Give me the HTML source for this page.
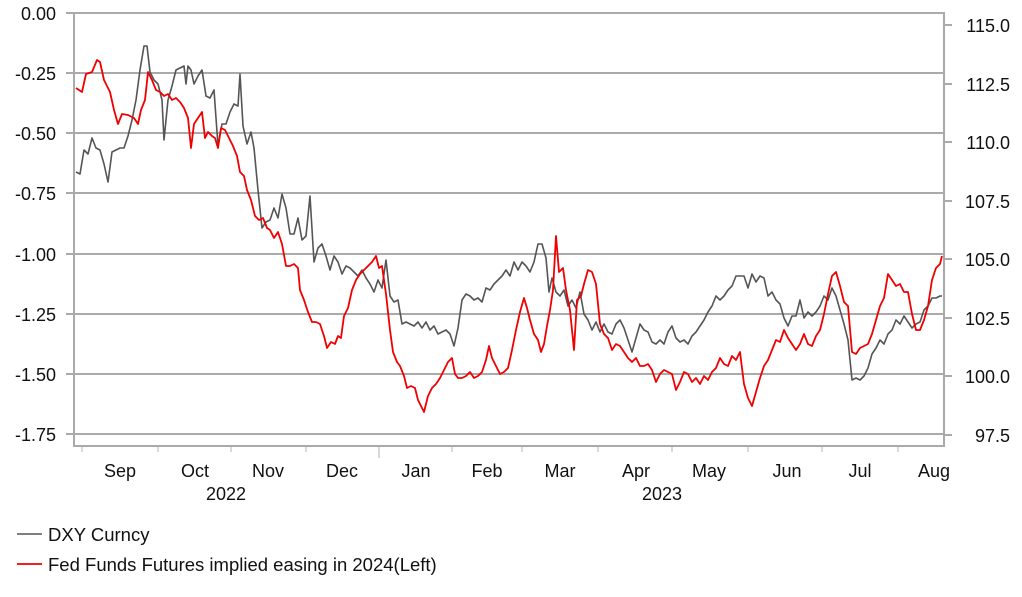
<!DOCTYPE html><html><head><meta charset="utf-8"><style>body{margin:0;background:#fff}svg{display:block;font-family:"Liberation Sans",sans-serif}</style></head><body>
<svg width="1022" height="597" viewBox="0 0 1022 597">
<rect x="0" y="0" width="1022" height="597" fill="#fff"/>
<g stroke="#aaa" stroke-width="2">
<line x1="74" y1="73" x2="944" y2="73"/><line x1="74" y1="133" x2="944" y2="133"/><line x1="74" y1="193" x2="944" y2="193"/><line x1="74" y1="254" x2="944" y2="254"/><line x1="74" y1="314" x2="944" y2="314"/><line x1="74" y1="374" x2="944" y2="374"/><line x1="74" y1="434" x2="944" y2="434"/>
<rect x="74" y="13" width="870" height="433" fill="none"/>
<line x1="66" y1="13" x2="74" y2="13"/><line x1="66" y1="73" x2="74" y2="73"/><line x1="66" y1="133" x2="74" y2="133"/><line x1="66" y1="193" x2="74" y2="193"/><line x1="66" y1="254" x2="74" y2="254"/><line x1="66" y1="314" x2="74" y2="314"/><line x1="66" y1="374" x2="74" y2="374"/><line x1="66" y1="434" x2="74" y2="434"/>
<line x1="944" y1="25" x2="952" y2="25"/><line x1="944" y1="84" x2="952" y2="84"/><line x1="944" y1="142" x2="952" y2="142"/><line x1="944" y1="201" x2="952" y2="201"/><line x1="944" y1="259" x2="952" y2="259"/><line x1="944" y1="318" x2="952" y2="318"/><line x1="944" y1="376" x2="952" y2="376"/><line x1="944" y1="435" x2="952" y2="435"/>
</g>
<g stroke="#ccc" stroke-width="1.5">
<line x1="82" y1="447" x2="82" y2="452"/><line x1="158" y1="447" x2="158" y2="452"/><line x1="231" y1="447" x2="231" y2="452"/><line x1="306" y1="447" x2="306" y2="452"/><line x1="379" y1="447" x2="379" y2="458"/><line x1="452" y1="447" x2="452" y2="452"/><line x1="522" y1="447" x2="522" y2="452"/><line x1="598" y1="447" x2="598" y2="452"/><line x1="672" y1="447" x2="672" y2="452"/><line x1="748" y1="447" x2="748" y2="452"/><line x1="822" y1="447" x2="822" y2="452"/><line x1="898" y1="447" x2="898" y2="452"/>
</g>
<g font-size="18" fill="#111" text-anchor="end">
<text x="56" y="20">0.00</text><text x="56" y="80">-0.25</text><text x="56" y="140">-0.50</text><text x="56" y="200">-0.75</text><text x="56" y="261">-1.00</text><text x="56" y="321">-1.25</text><text x="56" y="381">-1.50</text><text x="56" y="441">-1.75</text>
<text x="1010" y="32">115.0</text><text x="1010" y="91">112.5</text><text x="1010" y="149">110.0</text><text x="1010" y="208">107.5</text><text x="1010" y="266">105.0</text><text x="1010" y="325">102.5</text><text x="1010" y="383">100.0</text><text x="1010" y="442">97.5</text>
</g>
<g font-size="18" fill="#111" text-anchor="middle">
<text x="120" y="477">Sep</text><text x="195" y="477">Oct</text><text x="268" y="477">Nov</text><text x="342" y="477">Dec</text><text x="416" y="477">Jan</text><text x="487" y="477">Feb</text><text x="560" y="477">Mar</text><text x="636" y="477">Apr</text><text x="709" y="477">May</text><text x="787" y="477">Jun</text><text x="860" y="477">Jul</text><text x="934" y="477">Aug</text>
<text x="226" y="500">2022</text><text x="662" y="500">2023</text>
</g>
<polyline fill="none" stroke="#555" stroke-width="1.6" stroke-linejoin="round" points="76,172 80,174 84,150 88,154 92,138 96,148 100,150 104,164 108,182 112,152 116,150 120,148 124,148 128,136 132,120 136,100 140,70 144,46 147,46 150,72 154,80 158,84 162,100 164,140 168,100 172,86 176,70 180,68 184,66 186,84 188,66 191,70 194,84 198,76 202,70 206,96 210,98 214,90 218,146 222,124 226,124 230,112 234,104 238,106 240,74 243,126 247,144 251,132 254,148 258,190 262,228 266,222 270,220 274,208 278,218 282,194 286,208 290,234 294,234 298,218 302,240 306,236 310,196 314,262 318,248 322,244 326,256 330,270 334,256 338,262 342,274 346,266 350,268 354,272 358,276 362,270 366,278 370,284 374,292 378,280 382,288 386,260 390,296 394,302 398,300 402,324 406,322 410,324 414,326 418,322 422,328 426,322 430,330 434,326 438,334 442,332 446,330 450,334 454,346 458,328 462,300 466,294 470,296 474,300 478,298 482,302 486,288 490,290 494,284 498,280 502,276 506,270 510,276 514,262 518,270 522,262 526,266 530,272 534,262 538,244 542,244 546,258 549,292 552,278 556,292 560,296 564,290 568,306 572,300 576,308 580,292 584,314 588,320 592,330 596,322 600,332 604,324 608,332 612,334 616,324 620,320 624,328 628,340 632,352 636,338 640,324 644,330 648,332 652,342 656,344 660,340 664,344 668,332 672,326 676,338 680,342 684,340 688,344 692,336 696,332 700,326 704,320 708,312 712,306 716,296 720,300 724,296 728,290 732,286 736,276 740,276 744,276 748,288 752,274 756,282 760,276 764,278 768,296 772,292 776,300 780,304 784,318 788,326 792,316 796,316 800,300 804,318 808,312 812,316 816,312 820,306 824,296 828,300 832,288 836,296 840,310 844,324 848,340 852,380 856,378 860,380 864,376 868,368 872,354 876,348 880,340 884,344 888,334 892,330 896,320 900,324 904,316 908,322 912,328 916,324 920,322 924,310 928,306 932,298 936,298 940,296 942,296"/>
<polyline fill="none" stroke="#f00000" stroke-width="1.8" stroke-linejoin="round" points="76,88 82,92 86,74 92,72 97,60 100,62 104,80 110,92 114,110 118,124 122,114 128,115 134,118 138,124 141,110 145,100 148,72 152,80 156,90 160,92 164,96 168,94 172,100 176,98 180,102 184,108 188,118 191,148 194,124 198,118 202,112 205,138 208,132 212,136 215,138 218,148 221,128 225,130 229,138 233,146 237,156 240,172 244,176 247,190 251,200 255,216 259,220 263,218 267,228 270,230 274,238 278,232 282,244 286,266 290,266 294,264 298,268 300,290 304,300 308,312 312,322 316,322 320,324 324,336 327,348 331,342 335,344 338,336 341,338 344,316 348,308 352,290 356,280 360,274 364,270 368,266 372,262 376,256 379,268 382,266 386,294 390,330 393,352 397,362 400,366 404,376 407,388 411,386 415,388 418,400 421,406 424,412 428,396 432,388 436,384 440,378 444,370 448,362 452,358 455,374 458,378 462,378 466,376 470,372 474,378 478,376 482,372 486,360 489,346 492,358 496,366 500,374 504,372 508,368 512,350 516,330 520,312 524,298 527,308 530,320 534,334 538,340 541,352 544,344 547,326 550,310 553,290 556,236 559,272 563,268 566,290 570,310 574,350 577,300 581,296 584,284 588,270 592,272 596,284 600,324 604,334 608,338 612,350 616,344 620,346 624,352 628,358 632,362 636,358 640,366 644,366 648,364 652,370 656,382 660,374 664,370 668,372 672,374 676,390 680,382 684,372 688,374 692,382 696,378 700,384 704,376 708,380 712,372 716,368 720,358 724,364 728,366 732,356 736,360 740,352 744,384 748,398 752,406 756,392 760,378 764,366 768,360 772,350 776,340 780,342 784,330 788,338 792,344 796,350 800,344 804,334 808,344 812,346 816,336 820,330 824,314 828,294 832,276 836,272 840,286 844,302 848,306 852,352 856,354 860,348 864,346 868,344 872,334 876,320 880,306 884,298 888,274 892,280 896,286 900,284 904,292 908,292 912,314 916,330 920,330 924,320 928,306 932,280 936,268 940,264 942,256"/>
<line x1="17" y1="534" x2="42" y2="534" stroke="#555" stroke-width="1.6"/>
<line x1="17" y1="564" x2="42" y2="564" stroke="#f00000" stroke-width="1.8"/>
<g font-size="18.5" fill="#111"><text x="48" y="541">DXY Curncy</text><text x="48" y="571">Fed Funds Futures implied easing in 2024(Left)</text></g>
</svg></body></html>
